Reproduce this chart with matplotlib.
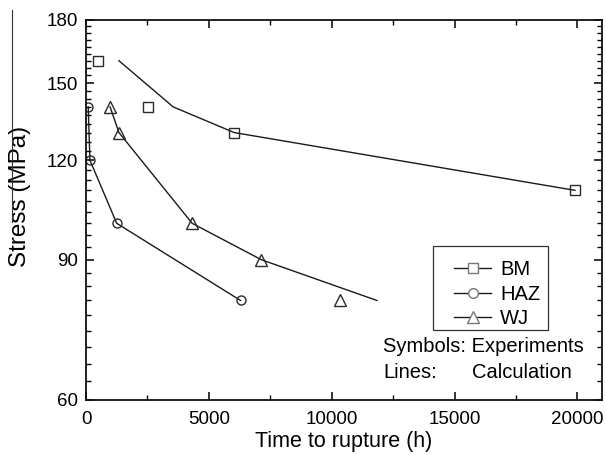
import matplotlib
matplotlib.use("Agg")
import matplotlib.pyplot as plt
from matplotlib.ticker import FixedLocator, NullFormatter, FixedFormatter
from matplotlib.lines import Line2D
from matplotlib.patches import Rectangle

plt.rcParams['font.family'] = ['Liberation Sans', 'DejaVu Sans']

# Experimental points
bm_x = [480, 2520, 6030, 19900]
bm_y = [160, 140, 130, 110]
haz_x = [90, 160, 1250, 6290]
haz_y = [140, 120, 100, 80]
wj_x = [980, 1340, 4320, 7140, 10330]
wj_y = [140, 130, 100, 90, 80]

# Calculated lines
bm_lx = [1340, 3550, 6030, 19900]
bm_ly = [160, 140, 130, 110]
haz_lx = [90, 160, 1250, 6290]
haz_ly = [140, 120, 100, 80]
wj_lx = [980, 1340, 4320, 7140, 11840]
wj_ly = [140, 130, 100, 90, 80]

yticks = [60, 90, 120, 150, 180]
xticks = [0, 5000, 10000, 15000, 20000]

fig = plt.figure(figsize=(6.06, 4.55), dpi=100)
ax = fig.add_axes([86/606, 55/455, 516/606, 380/455])

lc = '#1a1a1a'
mc = '#2a2a2a'
ms = 7
ax.plot(bm_lx, bm_ly, '-', color=lc, lw=1.0)
ax.plot(haz_lx, haz_ly, '-', color=lc, lw=1.0)
ax.plot(wj_lx, wj_ly, '-', color=lc, lw=1.0)
ax.plot(bm_x, bm_y, 's', mfc='none', mec=mc, ms=ms, mew=1.0, ls='none')
ax.plot(haz_x, haz_y, 'o', mfc='none', mec=mc, ms=ms - 0.5, mew=1.0, ls='none')
ax.plot(wj_x, wj_y, '^', mfc='none', mec=mc, ms=ms + 1, mew=1.0, ls='none')

ax.set_yscale('log')
ax.set_xlim(0, 21000)
ax.set_ylim(60, 180)
ax.yaxis.set_major_locator(FixedLocator(yticks))
ax.yaxis.set_major_formatter(FixedFormatter([str(v) for v in yticks]))
minor_y = []
for a in yticks[:-1]:
    minor_y += [a + k * 30 / 9 for k in range(1, 9)]
ax.yaxis.set_minor_locator(FixedLocator(minor_y))
ax.yaxis.set_minor_formatter(NullFormatter())
ax.xaxis.set_major_locator(FixedLocator(xticks))
ax.xaxis.set_minor_locator(FixedLocator([2500, 7500, 12500, 17500]))

ax.tick_params(which='both', direction='in', top=True, right=True, labelsize=13.5, colors='black')
ax.tick_params(axis='x', which='both', pad=8)
ax.tick_params(axis='y', which='both', pad=6)
ax.tick_params(which='major', length=6, width=1.1)
ax.tick_params(which='minor', length=3.5, width=1.0)
for s in ax.spines.values():
    s.set_linewidth(1.3)
    s.set_color('#111111')

ax.set_xlabel('Time to rupture (h)', fontsize=15.5, labelpad=2)
ax.set_ylabel('Stress (MPa)', fontsize=17.5)
ax.yaxis.set_label_coords((31 - 86) / 516, (400 - 196) / 380)

handles = [
    Line2D([], [], color=lc, lw=1.0, marker='s', mfc='white', mec='#777777', ms=ms),
    Line2D([], [], color=lc, lw=1.0, marker='o', mfc='white', mec='#777777', ms=ms),
    Line2D([], [], color=lc, lw=1.0, marker='^', mfc='white', mec='#777777', ms=ms + 1),
]
leg = ax.legend(handles, ['BM', 'HAZ', 'WJ'], loc='upper left',
                bbox_to_anchor=((454 - 86) / 516, (400 - 260) / 380),
                fontsize=14.5, frameon=False, borderpad=0, labelspacing=0.28,
                handlelength=1.85, handletextpad=0.45, borderaxespad=0)
ax.add_patch(Rectangle(((432.7 - 86) / 516, (400 - 330) / 380),
                       (548.3 - 432.7) / 516, (330 - 245.7) / 380,
                       transform=ax.transAxes, fill=False, edgecolor='#333333', lw=0.9))

ax.text(0.5756, 0.14, 'Symbols: Experiments', transform=ax.transAxes, fontsize=14.5, va='center', ha='left')
ax.text(0.5756, 0.072, 'Lines:', transform=ax.transAxes, fontsize=14.5, va='center', ha='left')
ax.text(0.749, 0.072, 'Calculation', transform=ax.transAxes, fontsize=14.5, va='center', ha='left')

# border artifact at left
fig.add_artist(Line2D([12/606, 12/606], [1 - 10/455, 1 - 222/455], color='#333333', lw=0.8))

fig.savefig('out.png', dpi=100)
